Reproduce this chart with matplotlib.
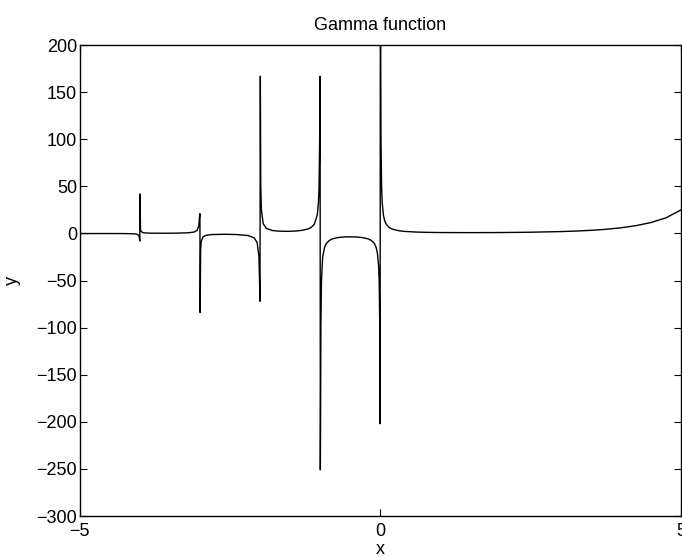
import matplotlib.pyplot as plt

plt.rcParams['font.family'] = ['Liberation Sans', 'DejaVu Sans']

# Samples, branch by branch between the poles
x_a = [-5.0, -4.9, -4.7, -4.5, -4.3, -4.2, -4.1, -4.05, -4.02, -4.01, -4.002]
y_a = [-0.05, -0.1, -0.06, -0.06, -0.1, -0.16, -0.36, -0.78, -2.0, -4.1, -8.0]

x_b = [-3.998, -3.99, -3.98, -3.95, -3.9, -3.8, -3.6, -3.5, -3.4, -3.2, -3.1,
       -3.05, -3.02, -3.01, -3.002]
y_b = [42.0, 4.2, 2.15, 0.9, 0.49, 0.3, 0.25, 0.27, 0.33, 0.69, 1.49,
       3.15, 8.1, 16.6, 21.0]

x_c = [-2.998, -2.99, -2.98, -2.95, -2.9, -2.8, -2.6, -2.5, -2.4, -2.2, -2.1,
       -2.05, -2.02, -2.01, -2.003]
y_c = [-84.0, -16.9, -8.55, -3.56, -1.92, -1.14, -0.89, -0.95, -1.11, -2.2, -4.63,
       -9.6, -24.5, -49.8, -72.0]

x_d = [-1.997, -1.99, -1.98, -1.95, -1.9, -1.8, -1.7, -1.6, -1.5, -1.4, -1.3,
       -1.2, -1.15, -1.1, -1.05, -1.03, -1.02, -1.01, -1.003]
y_d = [167.0, 50.5, 25.5, 10.5, 5.56, 3.19, 2.51, 2.31, 2.36, 2.66, 3.33,
       4.85, 6.45, 9.7, 19.6, 32.9, 49.6, 99.6, 167.0]

x_e = [-0.999, -0.995, -0.99, -0.98, -0.96, -0.93, -0.9, -0.85, -0.8, -0.7, -0.6,
       -0.5, -0.4, -0.3, -0.2, -0.15, -0.1, -0.07, -0.05, -0.03, -0.02, -0.01, -0.005]
y_e = [-251.0, -200.0, -100.0, -50.0, -25.0, -15.0, -10.6, -7.5, -5.74, -4.27, -3.7,
       -3.54, -3.72, -4.33, -5.82, -7.4, -10.7, -14.9, -20.7, -34.0, -51.0, -101.0, -202.0]

x_f = [0.002, 0.005, 0.01, 0.02, 0.03, 0.05, 0.07, 0.1, 0.15, 0.2, 0.3, 0.4, 0.6,
       0.8, 1.0, 1.5, 2.0, 2.5, 3.0, 3.25, 3.5, 3.75, 4.0, 4.25, 4.5, 4.75, 5.0]
y_f = [500.0, 199.4, 99.4, 49.4, 32.8, 19.5, 13.8, 9.5, 6.2, 4.6, 3.0, 2.2, 1.49,
       1.16, 1.0, 0.89, 1.0, 1.33, 2.0, 2.55, 3.32, 4.42, 6.0, 8.29, 11.6, 16.6, 25.0]

x_vals = x_a + x_b + x_c + x_d + x_e + x_f
y_vals = y_a + y_b + y_c + y_d + y_e + y_f

x_ticks = [-5, 0, 5]
y_ticks = [-300, -250, -200, -150, -100, -50, 0, 50, 100, 150, 200]

fig = plt.figure(figsize=(6.82, 5.57), dpi=100)
ax = fig.add_axes([0.117, 0.0736, 0.8815, 0.8454])

ax.plot(x_vals, y_vals, color='black', linewidth=1.0)

ax.set_xlim(-5, 5)
ax.set_ylim(-300, 200)
ax.set_xticks(x_ticks)
ax.set_yticks(y_ticks)
ax.tick_params(direction='in', length=5, width=0.8, top=True, right=True,
               labelsize=13, colors='black')
ax.tick_params(axis='x', pad=5)
ax.tick_params(axis='y', pad=2)
for s in ax.spines.values():
    s.set_linewidth(1.0)

ax.set_title("Gamma function", fontsize=13, pad=11)
ax.set_xlabel("x", fontsize=13, labelpad=1)
ax.set_ylabel("y", fontsize=13, labelpad=11)

fig.savefig("out.png", dpi=100)
